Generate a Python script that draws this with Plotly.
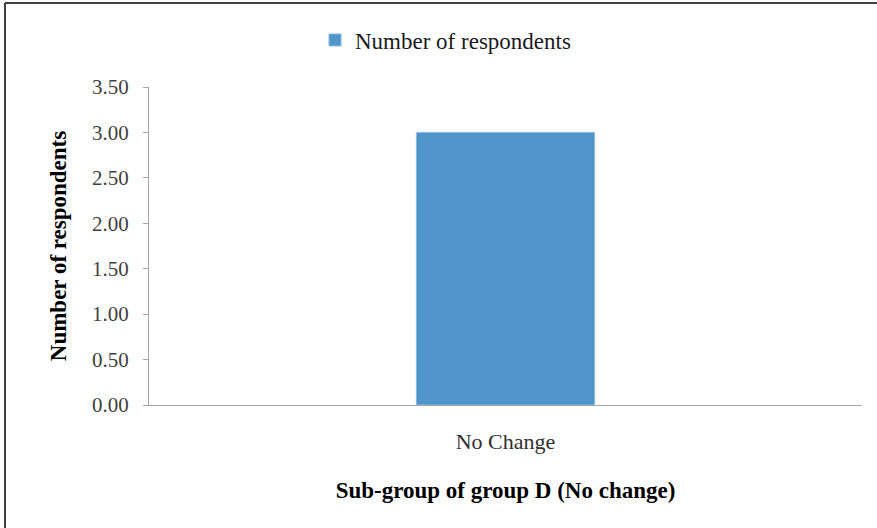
import plotly.graph_objects as go

categories = ["No Change"]
values = [3]
series_name = "Number of respondents"
y_ticks = [0, 0.5, 1.0, 1.5, 2.0, 2.5, 3.0, 3.5]
y_tick_labels = ["0.00", "0.50", "1.00", "1.50", "2.00", "2.50", "3.00", "3.50"]

W, H = 877, 528
L, R, T, B = 149, 15, 87, 123
pw, ph = W - L - R, H - T - B

fig = go.Figure()
fig.add_trace(go.Bar(
    x=categories, y=values, name=series_name,
    marker=dict(color="#4F95C9", line=dict(color="#8AB8E0", width=1)),
    width=0.25, showlegend=True,
))

font = "Liberation Serif, Times New Roman, serif"
fig.update_layout(
    width=W, height=H,
    margin=dict(l=L, r=R, t=T, b=B),
    paper_bgcolor="white", plot_bgcolor="white",
    font=dict(family=font, size=19, color="#404040"),
    showlegend=True,
    legend=dict(orientation="h", x=(315 - L) / pw, xanchor="left", y=1.0 + (T - 40) / ph, yanchor="middle",
                font=dict(family=font, size=23, color="#1a1a1a"), itemwidth=30,
                bgcolor="rgba(0,0,0,0)"),
    xaxis=dict(
        showline=True, linecolor="#A6A6A6", linewidth=1,
        showgrid=False, ticks="", ticklabelstandoff=17,
        tickfont=dict(family=font, size=22, color="#303030"),
        title=dict(text="<b>Sub-group of group D (No change)</b>",
                   font=dict(family=font, size=23, color="#000000"), standoff=28),
    ),
    yaxis=dict(
        range=[0, 3.5], tickvals=y_ticks, ticktext=y_tick_labels,
        showline=True, linecolor="#A6A6A6", linewidth=1,
        ticks="outside", ticklen=5, tickcolor="#A6A6A6", ticklabelstandoff=10,
        showgrid=False, zeroline=False,
        tickfont=dict(family=font, size=21, color="#404040"),
        title=dict(text="<b>Number of respondents</b>",
                   font=dict(family=font, size=23, color="#000000"), standoff=18),
    ),
    bargap=0.75,
)

# Frame lines (top and left) of the cropped chart image
x_left = (5 - L) / pw
y_top = 1 + (T - 3) / ph
fig.add_shape(type="line", xref="paper", yref="paper", x0=x_left, x1=(W - L) / pw + 0.01,
              y0=y_top, y1=y_top, line=dict(color="#404040", width=2))
fig.add_shape(type="line", xref="paper", yref="paper", x0=x_left, x1=x_left,
              y0=y_top, y1=-(B + 5) / ph, line=dict(color="#404040", width=2))

fig.write_html("out.html")
